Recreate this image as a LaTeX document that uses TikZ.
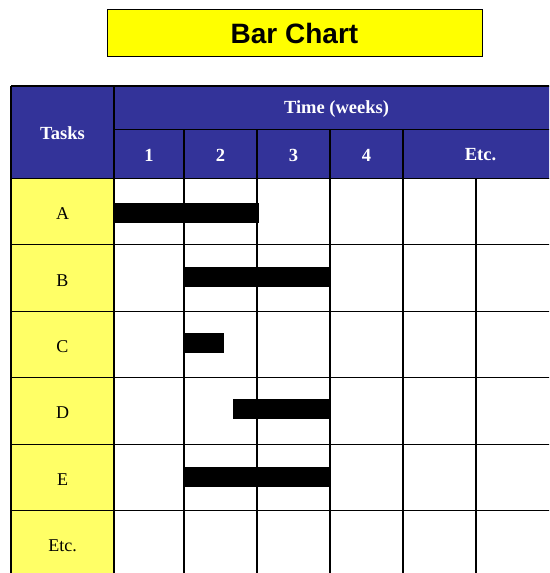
\documentclass[tikz,border=0pt]{standalone}
\usepackage{fontspec}
\setmainfont{Liberation Serif}
\newfontfamily\titlefont{Liberation Sans}
\definecolor{hdrblue}{HTML}{333399}
\definecolor{taskyellow}{HTML}{FFFF66}
\definecolor{titleyellow}{HTML}{FFFF00}
\tikzset{
  titlebox/.style={draw=black, line width=1pt, fill=titleyellow, minimum width=375pt, minimum height=47pt, inner sep=0pt, font=\titlefont\bfseries\fontsize{28}{30}\selectfont},
  hdrtext/.style={text=white, inner sep=0pt, font=\bfseries\fontsize{18.5}{20}\selectfont},
  tasktext/.style={text=black, inner sep=0pt, font=\fontsize{18}{20}\selectfont},
  gridline/.style={draw=black, line width=1.1pt},
  barfill/.style={fill=black}
}
\begin{document}
\begin{tikzpicture}[x=1pt,y=-1pt]
\useasboundingbox (0,0) rectangle (549,573);
\clip (0,0) rectangle (549,573);
\fill[white] (0,0) rectangle (549,573);
% title
\node[titlebox] (title) at (294.5,33) {Bar Chart};
% fills
\fill[hdrblue] (11,86) rectangle (560,178.5);
\fill[taskyellow] (11,178.5) rectangle (114,590);
% bars
\fill[barfill] (114,203) rectangle (259,223);
\fill[barfill] (184,267) rectangle (331,287);
\fill[barfill] (184,332.7) rectangle (224,352.7);
\fill[barfill] (233,398.7) rectangle (331,418.7);
\fill[barfill] (184,466.7) rectangle (331,486.7);
% grid
\draw[gridline] (11,86) -- (560,86);
\draw[gridline] (114,129.5) -- (560,129.5);
\foreach \y in {178.5,244.9,311.3,377.7,444.1,510.5} {
  \draw[gridline] (11,\y) -- (560,\y);
}
\draw[gridline] (11,86) -- (11,590);
\draw[gridline] (114,86) -- (114,590);
\foreach \x in {184,257,330,403} {
  \draw[gridline] (\x,129.5) -- (\x,590);
}
\draw[gridline] (476,178.5) -- (476,590);
% header text
\node[hdrtext] (tasks) at (62.5,133.5) {Tasks};
\node[hdrtext] (time) at (336.5,109) {Time (weeks)};
\node[hdrtext] (w1) at (149,155) {1};
\node[hdrtext] (w2) at (220.5,155) {2};
\node[hdrtext] (w3) at (293.5,155) {3};
\node[hdrtext] (w4) at (366.5,155) {4};
\node[hdrtext] (wetc) at (480.5,155) {Etc.};
% task labels
\node[tasktext] (ta) at (62.5,214) {A};
\node[tasktext] (tb) at (62.5,280.5) {B};
\node[tasktext] (tc) at (62.5,347) {C};
\node[tasktext] (td) at (62.5,413) {D};
\node[tasktext] (te) at (62.5,479.5) {E};
\node[tasktext] (tetc) at (62.5,546) {Etc.};
\end{tikzpicture}
\end{document}
